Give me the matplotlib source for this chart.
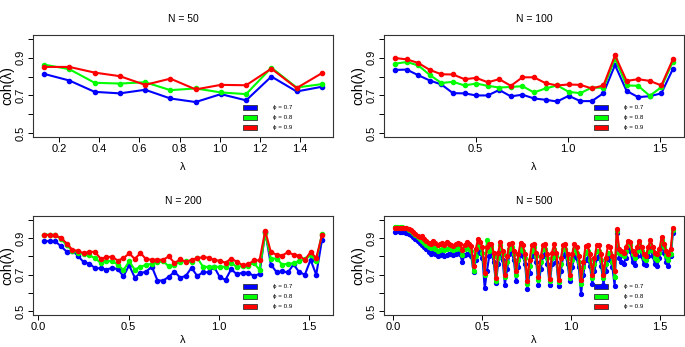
import numpy as np
import matplotlib
matplotlib.use("Agg")
import matplotlib.pyplot as plt
from matplotlib.patches import Rectangle

plt.rcParams['font.family'] = ['Liberation Sans', 'DejaVu Sans']

# sample sizes and phi values
sizes = [50, 100, 200, 500]
phis = ["0.7", "0.8", "0.9"]
colors = ["#0000ff", "#00ff00", "#ff0000"]

# coherence values (phi = 0.7, 0.8, 0.9)
coh50_07 = [0.814, 0.779, 0.719, 0.711, 0.730, 0.684, 0.665, 0.707, 0.674, 0.800, 0.721, 0.746]
coh50_08 = [0.863, 0.839, 0.767, 0.763, 0.770, 0.728, 0.737, 0.716, 0.707, 0.847, 0.742, 0.760]
coh50_09 = [0.851, 0.851, 0.821, 0.802, 0.756, 0.789, 0.732, 0.756, 0.754, 0.842, 0.739, 0.818]

coh100_07 = [0.835, 0.837, 0.807, 0.779, 0.758, 0.712, 0.711, 0.700, 0.700, 0.729,
             0.695, 0.704, 0.684, 0.677, 0.668, 0.698, 0.670, 0.670, 0.712, 0.861,
             0.724, 0.691, 0.696, 0.711, 0.840]
coh100_08 = [0.868, 0.877, 0.859, 0.808, 0.766, 0.772, 0.753, 0.763, 0.751, 0.742,
             0.745, 0.749, 0.716, 0.737, 0.753, 0.719, 0.712, 0.742, 0.740, 0.895,
             0.753, 0.751, 0.698, 0.744, 0.879]
coh100_09 = [0.898, 0.891, 0.872, 0.835, 0.812, 0.811, 0.786, 0.793, 0.770, 0.786,
             0.751, 0.796, 0.796, 0.765, 0.753, 0.758, 0.756, 0.737, 0.753, 0.912,
             0.777, 0.786, 0.777, 0.753, 0.891]

coh200_07 = [0.884, 0.882, 0.881, 0.854, 0.825, 0.830, 0.802, 0.767, 0.760, 0.735,
             0.735, 0.728, 0.737, 0.730, 0.691, 0.751, 0.684, 0.709, 0.716, 0.744,
             0.668, 0.668, 0.688, 0.716, 0.684, 0.693, 0.738, 0.693, 0.712, 0.714,
             0.742, 0.686, 0.672, 0.730, 0.702, 0.711, 0.711, 0.693, 0.704, 0.934,
             0.755, 0.714, 0.718, 0.712, 0.756, 0.714, 0.700, 0.781, 0.700, 0.888]
coh200_08 = [0.918, 0.918, 0.914, 0.895, 0.860, 0.830, 0.820, 0.813, 0.805, 0.790,
             0.763, 0.775, 0.773, 0.755, 0.724, 0.773, 0.727, 0.744, 0.753, 0.760,
             0.768, 0.773, 0.745, 0.755, 0.770, 0.776, 0.768, 0.793, 0.744, 0.742,
             0.744, 0.742, 0.744, 0.765, 0.741, 0.749, 0.750, 0.765, 0.726, 0.925,
             0.788, 0.788, 0.755, 0.760, 0.762, 0.775, 0.785, 0.805, 0.775, 0.920]
coh200_09 = [0.918, 0.916, 0.914, 0.900, 0.870, 0.835, 0.830, 0.816, 0.826, 0.823,
             0.786, 0.796, 0.798, 0.777, 0.790, 0.816, 0.786, 0.818, 0.784, 0.782,
             0.782, 0.781, 0.800, 0.763, 0.784, 0.770, 0.781, 0.790, 0.795, 0.793,
             0.780, 0.776, 0.765, 0.788, 0.770, 0.752, 0.756, 0.778, 0.778, 0.939,
             0.823, 0.809, 0.804, 0.823, 0.809, 0.804, 0.781, 0.823, 0.791, 0.914]

coh500_07 = [0.935, 0.936, 0.935, 0.934, 0.932, 0.928, 0.922, 0.915, 0.905, 0.896,
             0.885, 0.873, 0.862, 0.850, 0.840, 0.826, 0.815, 0.822, 0.812, 0.800,
             0.806, 0.812, 0.800, 0.808, 0.815, 0.810, 0.806, 0.812, 0.818, 0.810,
             0.770, 0.808, 0.815, 0.812, 0.800, 0.715, 0.780, 0.830, 0.820, 0.790,
             0.625, 0.720, 0.800, 0.820, 0.770, 0.655, 0.760, 0.830, 0.780, 0.645,
             0.730, 0.810, 0.820, 0.780, 0.668, 0.740, 0.820, 0.800, 0.760, 0.620,
             0.710, 0.800, 0.820, 0.770, 0.645, 0.730, 0.800, 0.810, 0.760, 0.645,
             0.760, 0.810, 0.770, 0.640, 0.720, 0.800, 0.810, 0.760, 0.665, 0.740,
             0.800, 0.790, 0.740, 0.595, 0.700, 0.780, 0.790, 0.750, 0.650, 0.720,
             0.790, 0.800, 0.750, 0.645, 0.720, 0.790, 0.780, 0.740, 0.640, 0.928,
             0.790, 0.770, 0.760, 0.790, 0.850, 0.830, 0.770, 0.755, 0.800, 0.850,
             0.800, 0.760, 0.755, 0.800, 0.840, 0.800, 0.760, 0.750, 0.790, 0.860,
             0.820, 0.770, 0.750, 0.800, 0.925]
coh500_08 = [0.958, 0.960, 0.960, 0.958, 0.956, 0.952, 0.946, 0.938, 0.928, 0.916,
             0.905, 0.895, 0.885, 0.872, 0.862, 0.852, 0.845, 0.852, 0.842, 0.830,
             0.836, 0.842, 0.832, 0.838, 0.845, 0.840, 0.835, 0.842, 0.848, 0.840,
             0.805, 0.838, 0.845, 0.842, 0.830, 0.720, 0.800, 0.860, 0.850, 0.820,
             0.700, 0.888, 0.830, 0.850, 0.800, 0.665, 0.790, 0.860, 0.810, 0.690,
             0.770, 0.840, 0.850, 0.810, 0.700, 0.780, 0.850, 0.830, 0.790, 0.650,
             0.750, 0.830, 0.850, 0.800, 0.670, 0.770, 0.840, 0.840, 0.790, 0.665,
             0.790, 0.840, 0.800, 0.660, 0.760, 0.840, 0.840, 0.790, 0.680, 0.780,
             0.840, 0.820, 0.770, 0.650, 0.740, 0.820, 0.830, 0.780, 0.680, 0.760,
             0.830, 0.830, 0.780, 0.680, 0.760, 0.820, 0.820, 0.770, 0.690, 0.940,
             0.820, 0.810, 0.800, 0.830, 0.870, 0.860, 0.810, 0.790, 0.830, 0.870,
             0.830, 0.790, 0.780, 0.830, 0.870, 0.830, 0.790, 0.780, 0.820, 0.890,
             0.850, 0.800, 0.780, 0.810, 0.945]
coh500_09 = [0.955, 0.957, 0.957, 0.956, 0.955, 0.952, 0.948, 0.942, 0.932, 0.922,
             0.912, 0.903, 0.912, 0.895, 0.885, 0.875, 0.868, 0.885, 0.872, 0.860,
             0.865, 0.872, 0.860, 0.878, 0.868, 0.862, 0.858, 0.866, 0.872, 0.865,
             0.835, 0.862, 0.878, 0.870, 0.855, 0.750, 0.840, 0.895, 0.880, 0.850,
             0.710, 0.850, 0.870, 0.870, 0.820, 0.680, 0.820, 0.880, 0.830, 0.700,
             0.800, 0.870, 0.875, 0.830, 0.720, 0.810, 0.875, 0.860, 0.810, 0.665,
             0.780, 0.860, 0.870, 0.820, 0.690, 0.800, 0.860, 0.865, 0.810, 0.675,
             0.820, 0.865, 0.820, 0.670, 0.790, 0.860, 0.865, 0.810, 0.700, 0.810,
             0.865, 0.850, 0.800, 0.670, 0.770, 0.855, 0.860, 0.810, 0.700, 0.790,
             0.860, 0.860, 0.810, 0.700, 0.790, 0.855, 0.850, 0.800, 0.720, 0.950,
             0.840, 0.830, 0.820, 0.850, 0.885, 0.880, 0.830, 0.810, 0.850, 0.885,
             0.850, 0.810, 0.800, 0.850, 0.890, 0.850, 0.820, 0.810, 0.840, 0.905,
             0.870, 0.830, 0.810, 0.840, 0.955]

series = {
    50: [coh50_07, coh50_08, coh50_09],
    100: [coh100_07, coh100_08, coh100_09],
    200: [coh200_07, coh200_08, coh200_09],
    500: [coh500_07, coh500_08, coh500_09],
}

W, H = 685, 347
fig = plt.figure(figsize=(W / 100, H / 100), dpi=100)

# panel boxes in pixels: left, top, right, bottom
boxes = [(33, 35, 333, 137), (384, 35, 684, 137),
         (33, 216, 333, 315), (384, 216, 684, 315)]

for i, (N, (l, t, r, b)) in enumerate(zip(sizes, boxes)):
    ax = fig.add_axes([l / W, 1 - b / H, (r - l) / W, (b - t) / H])
    lam = 2 * np.pi * np.arange(1, N // 4 + 1) / N   # Fourier frequencies
    ms = 3.0 if N < 500 else 2.8
    for vals, c in zip(series[N], colors):
        ax.plot(lam, vals, color=c, lw=1.5, marker='o', ms=ms, mec=c, mfc=c)
    ax.margins(x=0.04)
    ax.set_ylim(0.48, 1.02)
    ax.set_yticks([0.5, 0.6, 0.7, 0.8, 0.9, 1.0])
    ax.set_yticklabels(["0.5", "", "0.7", "", "0.9", ""], rotation=90, va='center')
    if N == 50:
        ax.set_xticks([0.2, 0.4, 0.6, 0.8, 1.0, 1.2, 1.4])
    else:
        xt = [0.5, 1.0, 1.5] if N == 100 else [0.0, 0.5, 1.0, 1.5]
        ax.set_xticks(xt)
    ax.tick_params(direction='out', length=3.5, width=0.7, labelsize=8, pad=1.5)
    for s in ax.spines.values():
        s.set_linewidth(0.8)
        s.set_color("#333333")
    ax.set_title("N = %d" % N, fontsize=7.5, pad=9)
    ax.set_xlabel("λ", fontsize=8, labelpad=6 if i < 2 else 2)
    ax.set_ylabel("coh(λ)", fontsize=10, labelpad=1)

    # legend drawn as in R: filled boxes with phi labels, no frame
    ys = [0.29, 0.19, 0.09]
    for yy, c, p in zip(ys, colors, phis):
        ax.add_patch(Rectangle((0.70, yy - 0.025), 0.045, 0.05, transform=ax.transAxes,
                               facecolor=c, edgecolor="#333333", lw=0.6, clip_on=False))
        ax.text(0.80, yy, "ϕ = " + p, transform=ax.transAxes, fontsize=4.5,
                va='center', ha='left')

fig.savefig("out.png", dpi=100)
